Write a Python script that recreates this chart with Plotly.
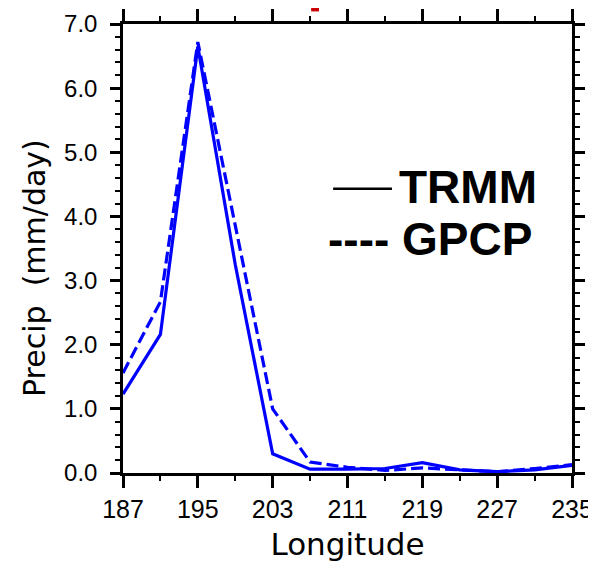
import plotly.graph_objects as go

longitude = [187, 191, 195, 199, 203, 207, 211, 215, 219, 223, 227, 231, 235]
trmm = [1.23, 2.16, 6.65, 3.25, 0.30, 0.06, 0.06, 0.07, 0.16, 0.05, 0.02, 0.05, 0.12]
gpcp = [1.56, 2.67, 6.72, 3.85, 1.00, 0.17, 0.09, 0.04, 0.08, 0.05, 0.02, 0.07, 0.13]

x_ticks = [187, 195, 203, 211, 219, 227, 235]
y_ticks = [0, 1, 2, 3, 4, 5, 6, 7]

fig = go.Figure()
fig.add_trace(go.Scatter(x=longitude, y=trmm, mode="lines", name="TRMM",
                         line=dict(color="#0000FF", width=3.2)))
fig.add_trace(go.Scatter(x=longitude, y=gpcp, mode="lines", name="GPCP",
                         line=dict(color="#0000FF", width=3.2, dash="12px,5px")))

xtickfont = dict(family="Liberation Sans, Arial, sans-serif", size=25, color="black")
ytickfont = dict(family="Liberation Sans, Arial, sans-serif", size=24, color="black")
titlefont = dict(family="DejaVu Sans, sans-serif", size=31, color="black")

# page body has an 8px margin, so the figure is offset by 8px
fig.update_layout(
    width=596, height=567,
    margin=dict(l=115, r=32, t=16, b=102),
    paper_bgcolor="white", plot_bgcolor="white",
    showlegend=False,
    xaxis=dict(
        range=[187, 235], tickvals=x_ticks, ticktext=[str(v) for v in x_ticks],
        ticks="outside", ticklen=12, tickwidth=2.5, tickcolor="black",
        showline=True, linewidth=2.5, linecolor="black", mirror="allticks",
        showgrid=False, zeroline=False, tickfont=xtickfont, automargin=False,
        minor=dict(dtick=4, tick0=187, ticks="outside", ticklen=5, tickwidth=1.5,
                   tickcolor="black", showgrid=False),
        title=dict(text="Longitude", font=titlefont, standoff=12),
    ),
    yaxis=dict(
        range=[0, 7], tickvals=y_ticks, ticktext=[f"{v:.1f}" for v in y_ticks],
        ticks="outside", ticklen=10, tickwidth=2.5, tickcolor="black",
        showline=True, linewidth=2.5, linecolor="black", mirror="allticks",
        showgrid=False, zeroline=False, tickfont=ytickfont, automargin=False,
        ticklabelstandoff=8,
        minor=dict(dtick=0.2, tick0=0, ticks="outside", ticklen=5, tickwidth=1.5,
                   tickcolor="black", showgrid=False),
    ),
)

# y-axis title (sits slightly below the axis centre in the reference)
fig.add_annotation(xref="paper", yref="paper", x=-0.196, y=0.4566, xanchor="center",
                   yanchor="middle", text="Precip  (mm/day)", textangle=-90,
                   showarrow=False, font=dict(family="DejaVu Sans, sans-serif", size=30, color="black"))

legend_font = dict(family="Liberation Sans, Arial, sans-serif", size=46, color="black")
fig.add_annotation(xref="paper", yref="paper", x=0.611, y=0.636, xanchor="left",
                   yanchor="middle", text="<b>TRMM</b>", showarrow=False, font=legend_font)
fig.add_annotation(xref="paper", yref="paper", x=0.453, y=0.522, xanchor="left",
                   yanchor="middle", text="<b>---- GPCP</b>", showarrow=False, font=legend_font)
fig.add_shape(type="line", xref="paper", yref="paper", x0=0.468, x1=0.599,
              y0=0.633, y1=0.633, line=dict(color="black", width=2.5))
# cut-off red title fragment at the very top edge
fig.add_shape(type="rect", xref="paper", yref="paper", x0=0.419, x1=0.4365,
              y0=1.028, y1=1.036, line=dict(width=0), fillcolor="#CC0000")

fig.write_html("out.html")
